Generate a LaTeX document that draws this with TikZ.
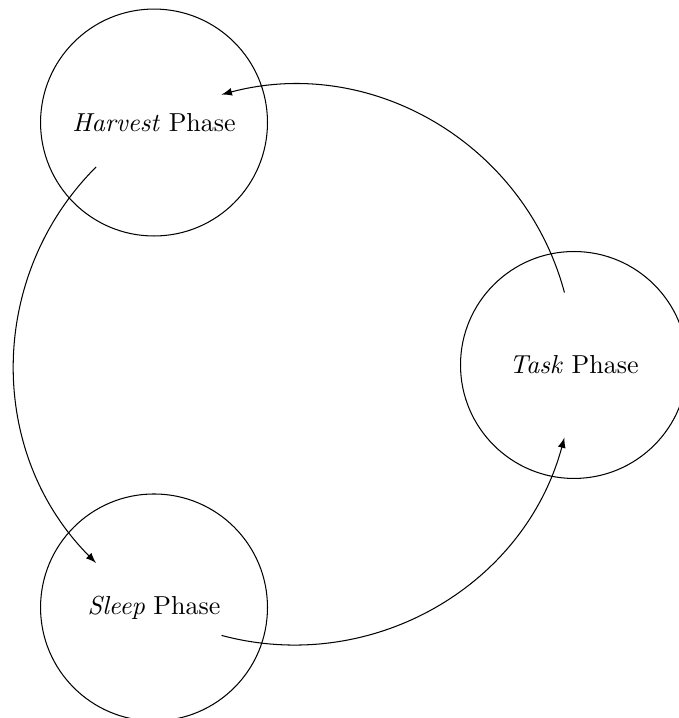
\documentclass[tikz,border=0pt]{standalone}
\usetikzlibrary{arrows}
\begin{document}
\begin{tikzpicture}[
  phase/.style={circle, draw, minimum size=87.3pt, inner sep=0pt},
  cyc/.style={-latex}
]
  \def\R{107.7pt}
  % page frame
  \useasboundingbox (-113.1pt,-135.8pt) rectangle (148.1pt,140.4pt);
  \coordinate (o) at (0,0);

  % the three phases, spaced evenly round the cycle
  \node[phase] (task)    at (0:\R)   {\emph{Task} Phase};
  \node[phase] (harvest) at (120:\R) {\emph{Harvest} Phase};
  \node[phase] (sleep)   at (240:\R) {\emph{Sleep} Phase};

  % arcs of the cycle, each leaving one phase for the next
  \coordinate (t-out) at ([shift={(15:\R)}]o);
  \coordinate (h-out) at ([shift={(135:\R)}]o);
  \coordinate (s-out) at ([shift={(255:\R)}]o);
  \draw[cyc] (t-out) arc[start angle=15,  end angle=105, radius=\R];
  \draw[cyc] (h-out) arc[start angle=135, end angle=225, radius=\R];
  \draw[cyc] (s-out) arc[start angle=255, end angle=345, radius=\R];
\end{tikzpicture}
\end{document}
